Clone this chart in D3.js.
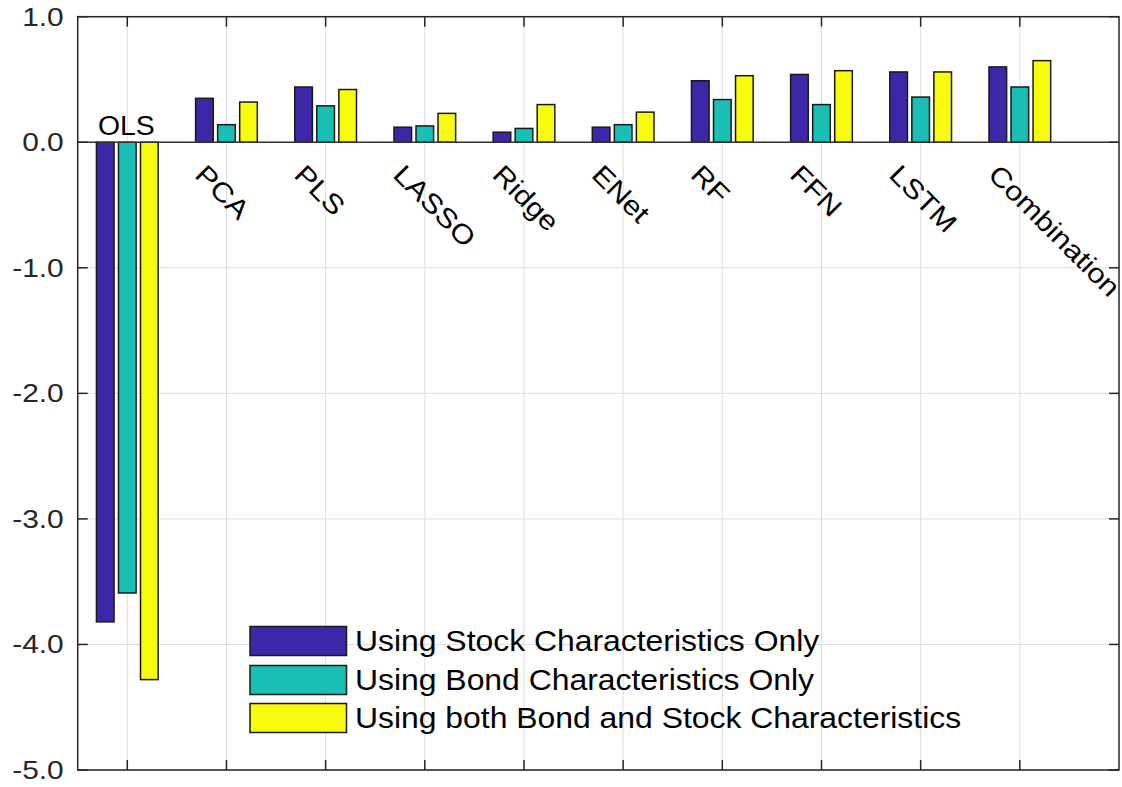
<!DOCTYPE html>
<html>
<head>
<meta charset="utf-8">
<script src="https://cdn.jsdelivr.net/npm/d3@7"></script>
<style>
  html, body { margin: 0; padding: 0; background: #fff; }
  svg { display: block; font-family: "Liberation Sans", Arial, Helvetica, sans-serif; }
</style>
</head>
<body>
<svg id="chart" width="1122" height="787"></svg>
<script>
const categories = ["OLS", "PCA", "PLS", "LASSO", "Ridge", "ENet", "RF", "FFN", "LSTM", "Combination"];
const seriesNames = [
  "Using Stock Characteristics Only",
  "Using Bond Characteristics Only",
  "Using both Bond and Stock Characteristics"
];
const stockOnly = [-3.82, 0.35, 0.44, 0.12, 0.08, 0.12, 0.49, 0.54, 0.56, 0.60];
const bondOnly  = [-3.59, 0.14, 0.29, 0.13, 0.11, 0.14, 0.34, 0.30, 0.36, 0.44];
const both      = [-4.28, 0.32, 0.42, 0.23, 0.30, 0.24, 0.53, 0.57, 0.56, 0.65];
const seriesColors = ["#3e26a8", "#19bfb5", "#f9fb0e"];
const yTicks = [1, 0, -1, -2, -3, -4, -5];
const yTickLabels = ["1.0", "0.0", "-1.0", "-2.0", "-3.0", "-4.0", "-5.0"];

const series = [stockOnly, bondOnly, both];
const svg = d3.select("#chart");
const L = 77.7, R = 1119, T = 16.7, B = 770;
const axisColor = "#262626";

const x = d3.scaleLinear().domain([0.5, 11]).range([L, R]);
const y = d3.scaleLinear().domain([-5, 1]).range([B, T]);
const xTicks = d3.range(1, categories.length + 1);

// grid
const grid = svg.append("g");
grid.selectAll("line.gx").data(xTicks).join("line")
  .attr("x1", d => x(d)).attr("x2", d => x(d)).attr("y1", T).attr("y2", B)
  .attr("stroke", "#dedede").attr("stroke-width", 1);
grid.selectAll("line.gy").data(yTicks).join("line")
  .attr("x1", L).attr("x2", R).attr("y1", d => y(d)).attr("y2", d => y(d))
  .attr("stroke", "#dedede").attr("stroke-width", 1);

// bars
const groupW = 0.8 * 3 / 3.6; // 0.667
const barStep = groupW / 3;
const barW = barStep * 0.8;
series.forEach((vals, si) => {
  svg.append("g").selectAll("rect").data(vals).join("rect")
    .attr("x", (d, i) => x(i + 1 + (si - 1) * barStep - barW / 2))
    .attr("width", x(barW) - x(0))
    .attr("y", d => y(Math.max(0, d)))
    .attr("height", d => Math.abs(y(d) - y(0)))
    .attr("fill", seriesColors[si])
    .attr("stroke", "#1a1a1a").attr("stroke-width", 1.5);
});

// baseline
svg.append("line").attr("x1", L).attr("x2", R).attr("y1", y(0)).attr("y2", y(0))
  .attr("stroke", "#333").attr("stroke-width", 1.5);

// axes box
svg.append("rect").attr("x", L).attr("y", T).attr("width", R - L).attr("height", B - T)
  .attr("fill", "none").attr("stroke", axisColor).attr("stroke-width", 1.5);

// tick marks (inward, both sides)
const tl = 10;
const ticksG = svg.append("g").attr("stroke", axisColor).attr("stroke-width", 1.5);
xTicks.forEach(t => {
  ticksG.append("line").attr("x1", x(t)).attr("x2", x(t)).attr("y1", B).attr("y2", B - tl);
  ticksG.append("line").attr("x1", x(t)).attr("x2", x(t)).attr("y1", T).attr("y2", T + tl);
});
yTicks.forEach(t => {
  ticksG.append("line").attr("x1", L).attr("x2", L + tl).attr("y1", y(t)).attr("y2", y(t));
  ticksG.append("line").attr("x1", R).attr("x2", R - tl).attr("y1", y(t)).attr("y2", y(t));
});

// y tick labels
svg.append("g").selectAll("text").data(yTicks).join("text")
  .attr("transform", d => `translate(${L - 14},${y(d)}) scale(1.15,1)`)
  .attr("text-anchor", "end").attr("dominant-baseline", "central")
  .attr("font-size", 26).attr("fill", axisColor)
  .text((d, i) => yTickLabels[i]);

// category labels
svg.append("text")
  .attr("transform", `translate(${x(1) - 1},${y(0) - 7}) scale(1.05,1)`)
  .attr("text-anchor", "middle").attr("font-size", 27).attr("fill", "#000")
  .text(categories[0]);
svg.append("g").selectAll("text").data(categories.slice(1)).join("text")
  .attr("transform", (d, i) => `translate(${x(i + 2) - 33},${y(0) + 34}) rotate(45) scale(1.14,1)`)
  .attr("text-anchor", "start").attr("font-size", 27).attr("fill", "#000")
  .text(d => d);

// legend
const lg = svg.append("g");
const legY = [641, 680, 718];
seriesNames.forEach((name, i) => {
  lg.append("rect").attr("x", 250).attr("y", legY[i] - 14.5).attr("width", 96.5).attr("height", 29)
    .attr("fill", seriesColors[i]).attr("stroke", "#1a1a1a").attr("stroke-width", 1.5);
  lg.append("text").attr("transform", `translate(355,${legY[i]}) scale(1.1,1)`)
    .attr("dominant-baseline", "central").attr("font-size", 29).attr("fill", "#000")
    .text(name);
});
</script>
</body>
</html>
